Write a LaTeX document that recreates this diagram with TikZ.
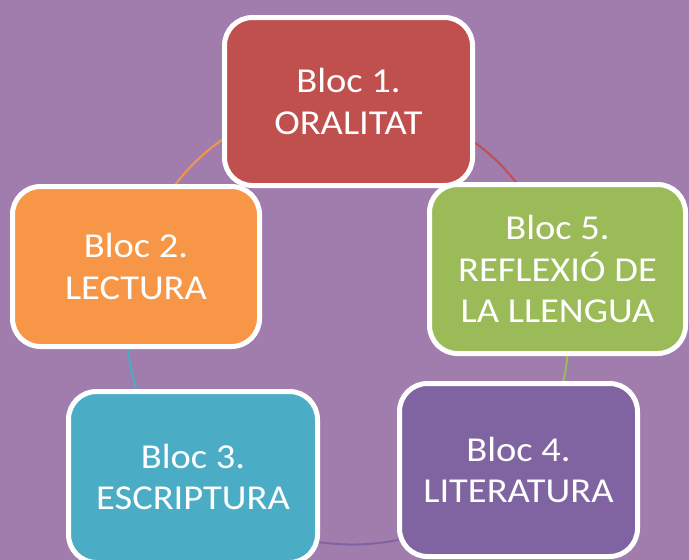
\documentclass[tikz,border=0pt]{standalone}
\usepackage{fontspec}
\setmainfont{Carlito}[FakeStretch=1.1]
\usetikzlibrary{backgrounds}
\definecolor{bgpurple}{HTML}{A17DAD}
\definecolor{cred}{HTML}{C0504D}
\definecolor{corange}{HTML}{F79646}
\definecolor{cgreen}{HTML}{9BBB59}
\definecolor{cteal}{HTML}{4BACC6}
\definecolor{cviolet}{HTML}{8064A2}
\tikzset{
  blocbox/.style={draw=white, line width=5pt, rounded corners=28pt, inner sep=0pt,
    align=center, text=white, font=\fontsize{35}{41.5}\selectfont},
  link/.style={line width=2pt}
}
\begin{document}
\begin{tikzpicture}[x=1pt,y=-1pt]
\useasboundingbox (0,0) rectangle (689,560);
\node[blocbox, fill=cred, minimum width=248pt, minimum height=168pt] (b1) at (348.5,101.5) {Bloc 1.\\ORALITAT};
\node[blocbox, fill=corange, minimum width=247pt, minimum height=160pt] (b2) at (136,266.5) {Bloc 2.\\LECTURA};
\node[blocbox, fill=cgreen, minimum width=256pt, minimum height=169pt] (b5) at (557.5,269) {Bloc 5.\\REFLEXIÓ DE\\LA LLENGUA};
\node[blocbox, fill=cteal, minimum width=249pt, minimum height=171pt] (b3) at (193,477) {Bloc 3.\\ESCRIPTURA};
\node[blocbox, fill=cviolet, minimum width=238pt, minimum height=173pt] (b4) at (518.5,470) {Bloc 4.\\LITERATURA};
\begin{scope}[on background layer]
\fill[bgpurple] (0,0) rectangle (689,560);
\draw[link, cred] (b1.center) to[bend left=37] (b5.center);
\draw[link, cgreen] (b5.center) to[bend left=27] (b4.center);
\draw[link, cviolet] (b4.center) to[bend left=48] (b3.center);
\draw[link, cteal] (b3.center) to[bend left=30] (b2.center);
\draw[link, corange] (b2.center) to[bend left=37] (b1.center);
\end{scope}
\end{tikzpicture}
\end{document}
